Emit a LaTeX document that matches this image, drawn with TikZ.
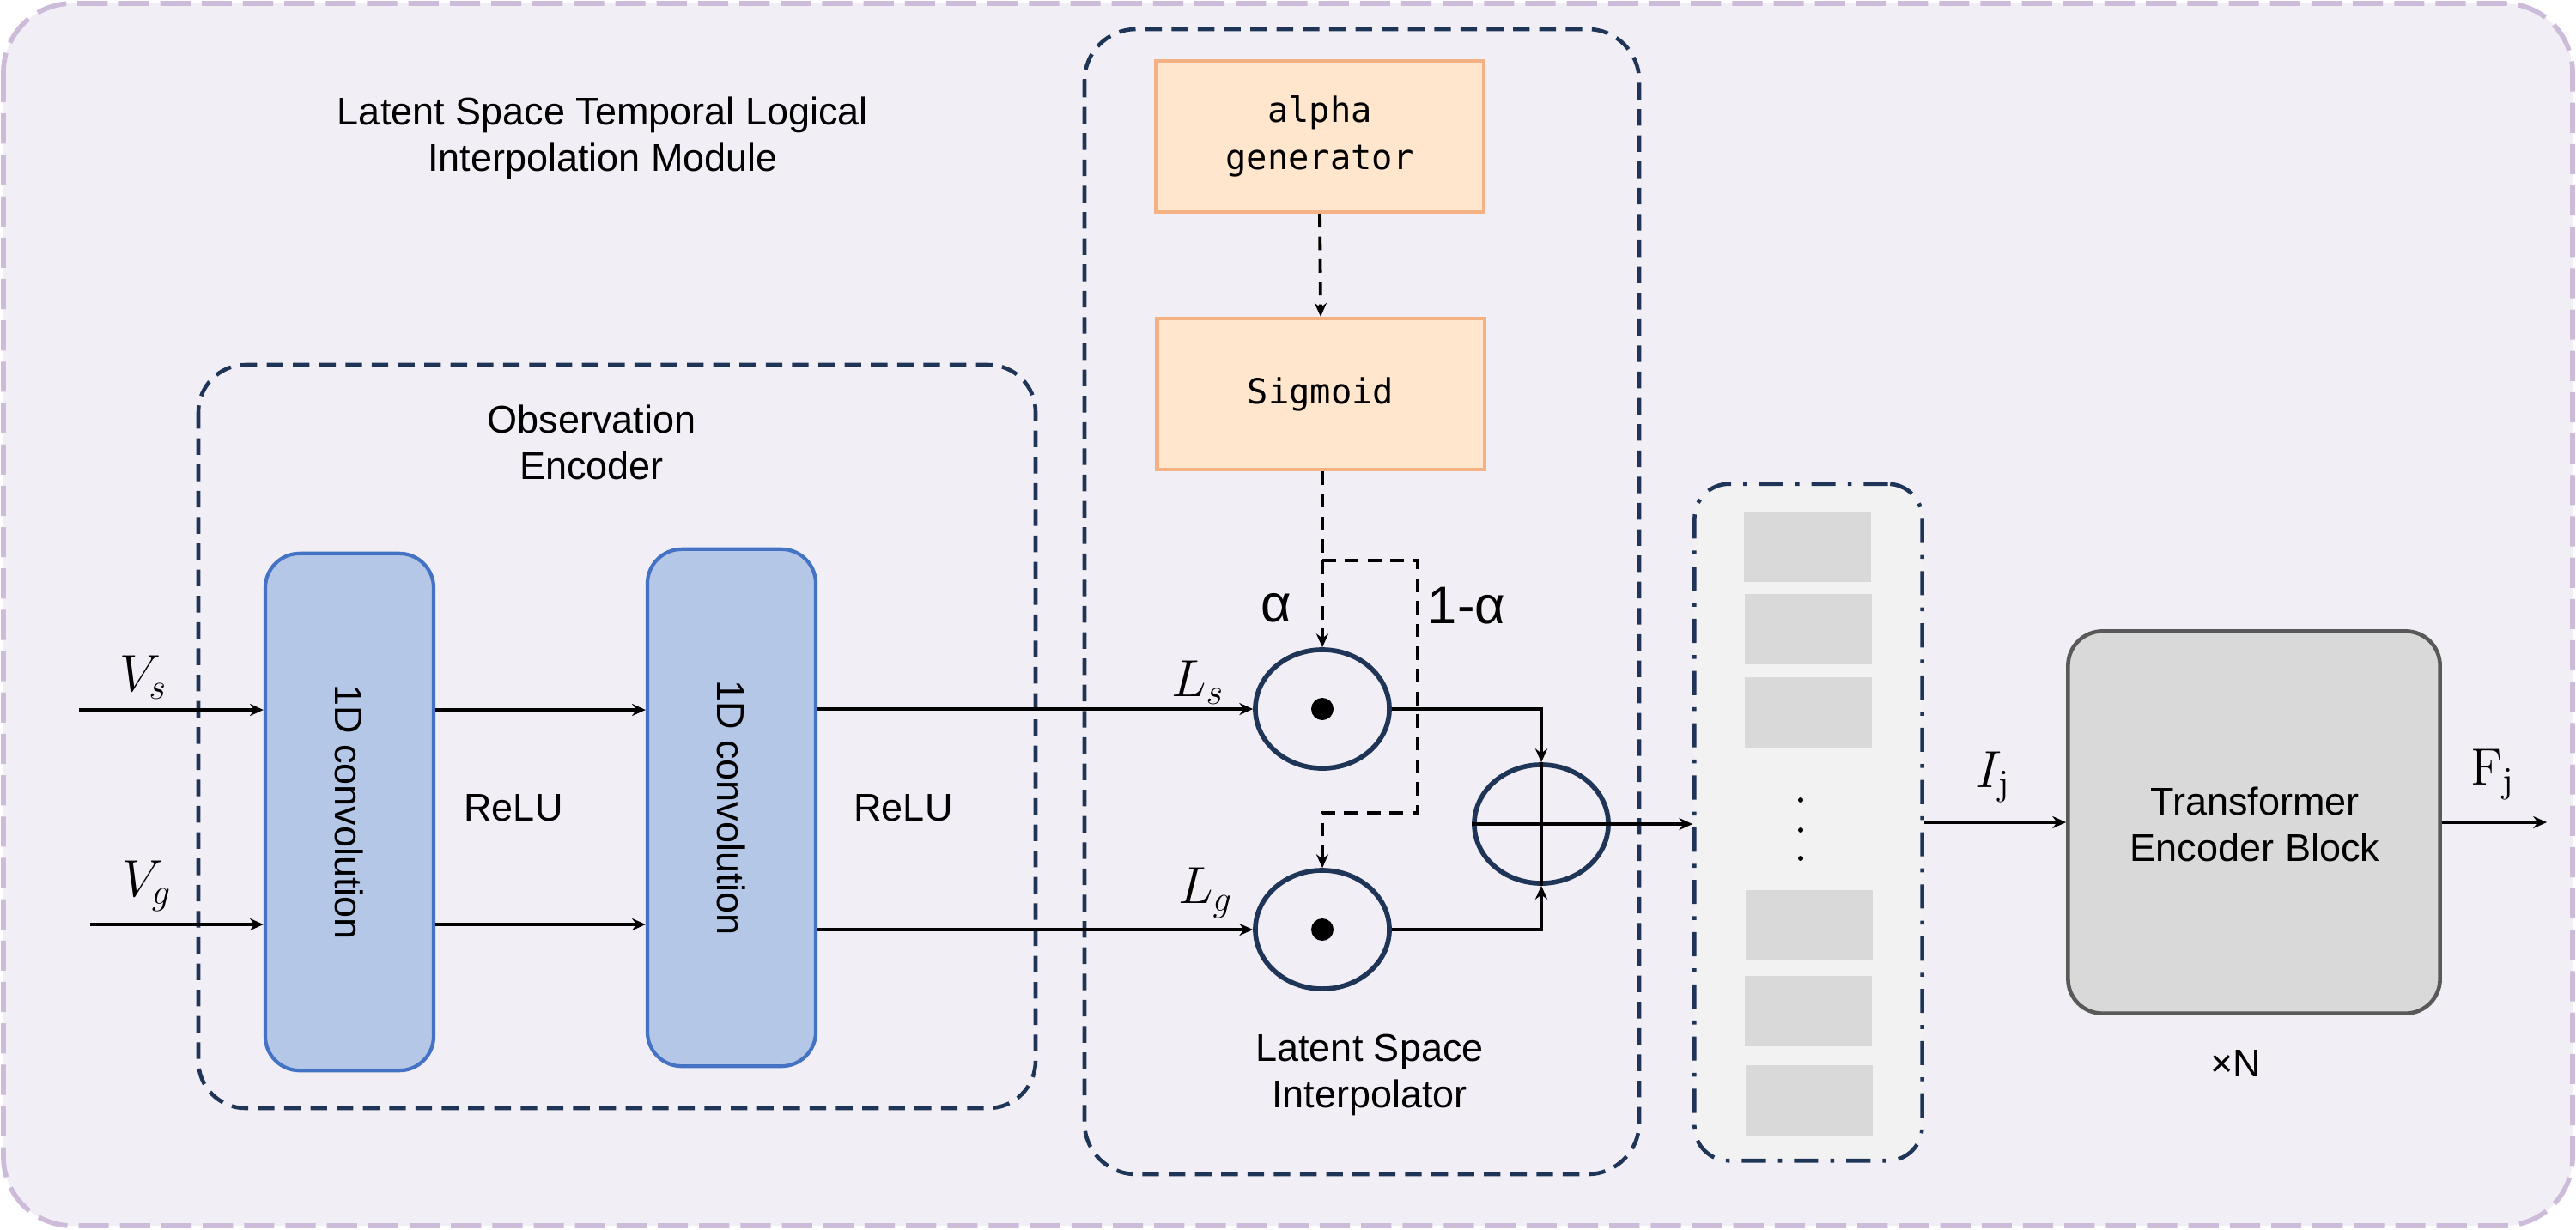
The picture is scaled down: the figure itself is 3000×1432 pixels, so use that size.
\documentclass[tikz,border=0pt]{standalone}
\usepackage[no-math]{fontspec}
\setmainfont{Liberation Sans}
\setmonofont{DejaVu Sans Mono}
\usetikzlibrary{arrows.meta,shapes.geometric}
\definecolor{outerfill}{HTML}{F2EEF6}
\definecolor{outerline}{HTML}{CDBCD9}
\definecolor{navy}{HTML}{1F3557}
\definecolor{convfill}{HTML}{B4C7E7}
\definecolor{convline}{HTML}{4472C4}
\definecolor{orfill}{HTML}{FFE6CC}
\definecolor{orline}{HTML}{F4B183}
\definecolor{boxgrey}{HTML}{F2F2F2}
\definecolor{sqgrey}{HTML}{D9D9D9}
\definecolor{tfline}{HTML}{595959}
\begin{document}
\begin{tikzpicture}[x=0.01cm,y=-0.01cm,
  txt/.style={font=\fontsize{12.8}{15.4}\selectfont, align=center, inner sep=0pt},
  mathlbl/.style={font=\fontsize{18}{21}\selectfont, inner sep=0pt},
  greek/.style={font=\fontsize{17.5}{20}\selectfont, inner sep=0pt},
  convbox/.style={draw=convline, fill=convfill, line width=1.2pt, rounded corners=0.4cm, minimum width=1.96cm, minimum height=6.02cm, inner sep=0pt},
  orbox/.style={draw=orline, fill=orfill, line width=1.2pt, minimum width=3.81cm, minimum height=1.76cm, align=center, inner sep=0pt, font=\ttfamily\fontsize{11.5}{15.6}\selectfont},
  opell/.style={ellipse, draw=navy, line width=1.6pt, minimum width=1.56cm, minimum height=1.38cm, inner sep=0pt},
  sq/.style={fill=sqgrey, minimum width=1.47cm, minimum height=0.82cm, inner sep=0pt},
  arr/.style={-{Stealth[length=4.5pt,width=4pt]}, line width=1pt, black},
  darr/.style={-{Stealth[length=4.5pt,width=4pt]}, line width=1.1pt, black, dash pattern=on 4.5pt off 3pt},
  dline/.style={line width=1.1pt, black, dash pattern=on 4.5pt off 3pt},
  groupbox/.style={draw=navy, line width=1.3pt, dash pattern=on 5.5pt off 3.2pt}
]
\useasboundingbox (0,0) rectangle (3000,1432);
% outer module
\draw[draw=outerline, fill=outerfill, line width=1.6pt, dash pattern=on 10pt off 3.7pt, rounded corners=0.8cm] (4,4) rectangle (2996,1428);
\node[txt] (title) at (702,161) {Latent Space Temporal Logical\\Interpolation Module};

% observation encoder group
\draw[groupbox, rounded corners=0.55cm] (231,425) rectangle (1206,1291);
\node[txt] (obslbl) at (689,515) {Observation\\Encoder};
\node[convbox] (conv1) at (407,946) {};
\node[convbox] (conv2) at (852,941) {};
\node[txt, rotate=-90] (c1t) at (conv1) {1D convolution};
\node[txt, rotate=-90] (c2t) at (conv2) {1D convolution};
\node[txt] (relu1) at (598,941) {ReLU};
\node[txt] (relu2) at (1052,941) {ReLU};

% inputs
\coordinate (vsin) at (92,827);
\coordinate (vgin) at (105,1077);
\node[mathlbl] (vs) at (167,789) {$V_s$};
\node[mathlbl] (vg) at (171,1032) {$V_g$};
\draw[arr] (vsin) -- (conv1.west |- vsin);
\draw[arr] (vgin) -- (conv1.west |- vgin);
\draw[arr] (conv1.east |- vsin) -- (conv2.west |- vsin);
\draw[arr] (conv1.east |- vgin) -- (conv2.west |- vgin);

% interpolator group
\draw[groupbox, rounded corners=0.6cm] (1263,34) rectangle (1909,1368);
\node[orbox] (alpha) at (1537,159) {alpha\\generator};
\node[orbox] (sig) at (1538,459) {Sigmoid};
\draw[darr] (alpha.south) -- (sig.north);
\node[opell] (ls) at (1540,826) {};
\node[opell] (lg) at (1540,1083) {};
\node[opell] (plus) at (1795,960) {};
\fill (ls) circle[radius=0.13cm];
\fill (lg) circle[radius=0.13cm];
\draw[line width=1pt] (plus.north) -- (plus.south);
\draw[line width=1pt] (plus.west) -- (plus.east);
\coordinate (jn) at (1540,653);
\coordinate (jr) at (1651,653);
\coordinate (jb) at (1651,947);
\coordinate (jl) at (1540,947);
\draw[dline] (sig.south -| jn) -- (jn);
\draw[darr] (jn) -- (ls.north);
\draw[darr] (jn) -- (jr) -- (jb) -- (jl) -- (lg.north);
\node[greek] (alab) at (1486,708) {α};
\node[greek] (blab) at (1708,706) {1-α};
\node[mathlbl] (lslab) at (1395,795) {$L_s$};
\node[mathlbl] (lglab) at (1404,1040) {$L_g$};
\draw[arr] (conv2.east |- ls.west) -- (ls.west);
\draw[arr] (conv2.east |- lg.west) -- (lg.west);
\draw[arr] (ls.east) -| (plus.north);
\draw[arr] (lg.east) -| (plus.south);
\node[txt] (interlbl) at (1595,1252) {Latent Space\\Interpolator};

% token stack
\node[draw=navy, fill=boxgrey, line width=1.3pt, dash pattern=on 8pt off 4pt on 1.3pt off 4pt, rounded corners=0.4cm, minimum width=2.65cm, minimum height=7.88cm, inner sep=0pt] (stack) at (2106,958) {};
\node[sq] (s1) at (2105,637) {};
\node[sq] (s2) at (2106,733) {};
\node[sq] (s3) at (2106,830) {};
\node[sq] (s4) at (2107,1078) {};
\node[sq] (s5) at (2106,1178) {};
\node[sq] (s6) at (2107,1282) {};
\fill (2097,932) circle[radius=0.03cm];
\fill (2097,967) circle[radius=0.03cm];
\fill (2097,1000) circle[radius=0.03cm];
\draw[arr] (plus.east) -- (stack.west |- plus.east);

% transformer
\node[draw=tfline, fill=sqgrey, line width=1.3pt, rounded corners=0.4cm, minimum width=4.33cm, minimum height=4.45cm, inner sep=0pt] (tf) at (2625,958) {};
\node[txt] (tftxt) at (2626,960) {Transformer\\Encoder Block};
\node[txt] (xn) at (2604,1239) {×N};
\draw[arr] (stack.east) -- (tf.west);
\node[mathlbl] (ij) at (2321,905) {$I_{\mathrm{j}}$};
\coordinate (fout) at (2966,958);
\draw[arr] (tf.east) -- (fout);
\node[mathlbl] (fj) at (2903,902) {$\mathrm{F}_{\mathrm{j}}$};
\end{tikzpicture}
\end{document}
